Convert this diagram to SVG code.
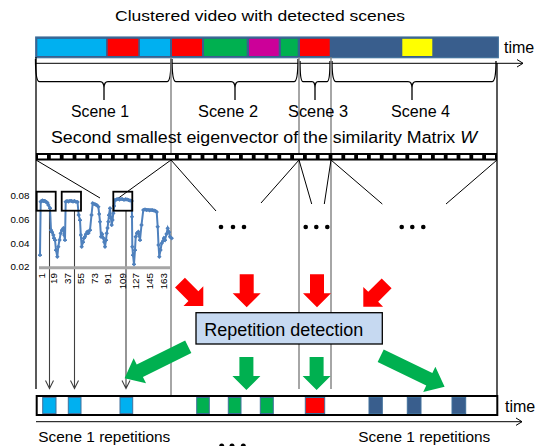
<svg xmlns="http://www.w3.org/2000/svg" width="542" height="446" viewBox="0 0 542 446">
<defs>
<style>
text{font-family:"Liberation Sans","DejaVu Sans",sans-serif;fill:#000}
.t15{font-size:15px}
.t16{font-size:16px}
.ax{font-size:9.8px;fill:#333}
.ln{stroke:#000;stroke-width:1;fill:none}
.gl{stroke:#808080;stroke-width:1.4;fill:none}
.bl{stroke:#000;stroke-width:1.3;fill:none}
.brace{stroke:#000;stroke-width:1.3;fill:none}
.seg{stroke:#41719c;stroke-width:1}
.red{fill:#ff0000}
.grn{fill:#00b050}
</style>
<marker id="dia" viewBox="-3 -3 6 6" markerWidth="4.5" markerHeight="4.5" markerUnits="userSpaceOnUse">
<path d="M0,-3 L3,0 L0,3 L-3,0 Z" fill="#4f81bd"/>
</marker>
<path id="blk" d="M-7,-33 L7,-33 L7,-14 L14,-14 L0,0 L-14,-14 L-7,-14 Z"/>
<path id="blkL" d="M-7,-71 L7,-71 L7,-17 L14,-17 L0,0 L-14,-17 L-7,-17 Z"/>
</defs>

<text id="title" class="t15" x="115" y="20.5" textLength="290" lengthAdjust="spacingAndGlyphs">Clustered video with detected scenes</text>

<g id="video-bar">
<rect x="35.7" y="37" width="462.6" height="20.7" fill="#395e8d" stroke="#41719c" stroke-width="1.2"/>
<rect x="37.3" y="38.8" width="68.7" height="17.2" fill="#00b0f0"/>
<rect x="107.7" y="38.8" width="30.6" height="17.2" fill="#ff0000"/>
<rect x="140" y="38.8" width="30" height="17.2" fill="#00b0f0"/>
<rect x="172" y="38.8" width="30" height="17.2" fill="#ff0000"/>
<rect x="204" y="38.8" width="42.7" height="17.2" fill="#00b050"/>
<rect x="249" y="38.8" width="29.7" height="17.2" fill="#cc0099"/>
<rect x="281" y="38.8" width="16.7" height="17.2" fill="#00b050"/>
<rect x="300" y="38.8" width="29.7" height="17.2" fill="#ff0000"/>
<rect x="402.3" y="38.8" width="30" height="17.2" fill="#ffff00"/>
<text class="t16" x="504" y="52.5">time</text>
</g>

<g id="connectors">
<path class="ln" d="M35,63.3 H523 M517,59.5 L523,63.3 L517,67"/>
<path class="brace" d="M35.5,59 Q35.5,81.7 39.5,81.7 H100 Q104,81.7 104,88 V100 M104,88 Q104,81.7 108,81.7 H167 Q171,81.7 171,59"/>
<path class="brace" d="M172,59 Q172,81.7 176,81.7 H231 Q235,81.7 235,88 V100 M235,88 Q235,81.7 239,81.7 H294 Q298,81.7 298,59"/>
<path class="brace" d="M300,61 Q300,81.7 303,81.7 H312 Q315,81.7 315,88 V100 M315,88 Q315,81.7 318,81.7 H327 Q330,81.7 330,61"/>
<path class="brace" d="M332,61 Q332,81.7 336,81.7 H408 Q412,81.7 412,88 V100 M412,88 Q412,81.7 416,81.7 H492 Q496,81.7 496,61"/>
<line class="bl" x1="36" y1="57" x2="36" y2="389"/>
<line class="gl" x1="171" y1="57" x2="171" y2="396"/>
<line class="gl" x1="299" y1="57" x2="299" y2="389"/>
<line class="gl" x1="331" y1="57" x2="331" y2="389"/>
<line class="bl" x1="497" y1="63" x2="497" y2="396"/>
<path class="ln" d="M36,160 L100,198 M171,160 L113,202 M171,160 L216,211 M299,160 L261,203 M299,160 L311.7,204 M331,160 L324.3,204 M331,160 L382.3,204 M497,160 L446,204"/>
<path stroke="#404040" stroke-width="1.1" fill="none" d="M49.5,211 V388.5 M45.5,380.5 L49.5,388.5 L53.5,380.5 M74.5,211 V388.5 M70.5,380.5 L74.5,388.5 L78.5,380.5 M126,211 V388.5 M122,380.5 L126,388.5 L130,380.5"/>
<use href="#blk" class="red" transform="translate(203.3,306) rotate(-45)"/>
<use href="#blk" class="red" transform="translate(246.7,307.3)"/>
<use href="#blk" class="red" transform="translate(317,307.3)"/>
<use href="#blk" class="red" transform="translate(363.3,306.7) rotate(45)"/>
<use href="#blkL" class="grn" transform="translate(124.6,378.3) rotate(63.7)"/>
<use href="#blk" class="grn" transform="translate(246.4,390)"/>
<use href="#blk" class="grn" transform="translate(316.6,390)"/>
<use href="#blkL" class="grn" transform="translate(444.6,386.7) rotate(-64.2)"/>
<path class="ln" d="M36,421.7 H522 M516,418 L522,421.7 L516,425.4"/>
</g>

<g id="scene-labels">
<text class="t16" x="71" y="117" textLength="58" lengthAdjust="spacingAndGlyphs">Scene 1</text>
<text class="t16" x="198" y="117" textLength="60" lengthAdjust="spacingAndGlyphs">Scene 2</text>
<text class="t16" x="288" y="117" textLength="60" lengthAdjust="spacingAndGlyphs">Scene 3</text>
<text class="t16" x="391" y="117" textLength="59" lengthAdjust="spacingAndGlyphs">Scene 4</text>
<text class="t16" x="51" y="142.5" textLength="426" lengthAdjust="spacingAndGlyphs">Second smallest eigenvector of the similarity Matrix <tspan font-style="italic">W</tspan></text>
</g>

<g id="eigen-strip">
<rect x="36" y="153" width="461" height="7.5" fill="#000"/>
<g fill="#fff">
<rect x="38" y="155" width="9" height="3.5"/><rect x="50.8" y="155" width="9" height="3.5"/><rect x="63.6" y="155" width="9" height="3.5"/><rect x="76.4" y="155" width="9" height="3.5"/><rect x="89.2" y="155" width="9" height="3.5"/><rect x="102" y="155" width="9" height="3.5"/><rect x="114.8" y="155" width="9" height="3.5"/><rect x="127.6" y="155" width="9" height="3.5"/><rect x="140.4" y="155" width="9" height="3.5"/><rect x="153.2" y="155" width="9" height="3.5"/><rect x="166" y="155" width="9" height="3.5"/><rect x="178.8" y="155" width="9" height="3.5"/><rect x="191.6" y="155" width="9" height="3.5"/><rect x="204.4" y="155" width="9" height="3.5"/><rect x="217.2" y="155" width="9" height="3.5"/><rect x="230" y="155" width="9" height="3.5"/><rect x="242.8" y="155" width="9" height="3.5"/><rect x="255.6" y="155" width="9" height="3.5"/><rect x="268.4" y="155" width="9" height="3.5"/><rect x="281.2" y="155" width="9" height="3.5"/><rect x="294" y="155" width="9" height="3.5"/><rect x="306.8" y="155" width="9" height="3.5"/><rect x="319.6" y="155" width="9" height="3.5"/><rect x="332.4" y="155" width="9" height="3.5"/><rect x="345.2" y="155" width="9" height="3.5"/><rect x="358" y="155" width="9" height="3.5"/><rect x="370.8" y="155" width="9" height="3.5"/><rect x="383.6" y="155" width="9" height="3.5"/><rect x="396.4" y="155" width="9" height="3.5"/><rect x="409.2" y="155" width="9" height="3.5"/><rect x="422" y="155" width="9" height="3.5"/><rect x="434.8" y="155" width="9" height="3.5"/><rect x="447.6" y="155" width="9" height="3.5"/><rect x="460.4" y="155" width="9" height="3.5"/><rect x="473.2" y="155" width="9" height="3.5"/><rect x="486" y="155" width="9" height="3.5"/>
</g>
</g>

<g id="chart">
<line x1="39" y1="267.7" x2="171" y2="267.7" stroke="#a6a6a6" stroke-width="3"/>
<g class="ax" text-anchor="end">
<text x="29.5" y="198.8">0.08</text>
<text x="29.5" y="222.8">0.06</text>
<text x="29.5" y="246.8">0.04</text>
<text x="29.5" y="270.3">0.02</text>
</g>
<g class="ax" text-anchor="end">
<text transform="translate(44.5,273) rotate(-90)">1</text>
<text transform="translate(57.3,273) rotate(-90)">19</text>
<text transform="translate(71.2,273) rotate(-90)">37</text>
<text transform="translate(84.2,273) rotate(-90)">55</text>
<text transform="translate(97.8,273) rotate(-90)">73</text>
<text transform="translate(111,273) rotate(-90)">91</text>
<text transform="translate(126.3,273) rotate(-90)">109</text>
<text transform="translate(139.3,273) rotate(-90)">127</text>
<text transform="translate(153,273) rotate(-90)">145</text>
<text transform="translate(166.5,273) rotate(-90)">163</text>
</g>
<polyline fill="none" stroke="#4f81bd" stroke-width="2" marker-start="url(#dia)" marker-mid="url(#dia)" marker-end="url(#dia)" points="40,255 40.7,201.7 41.5,201 42.5,200.5 43.5,201 44.5,200.8 45.5,201.5 46.5,202 47.5,203 48.3,205 50,208 51,230 52,232 53.3,235 54,238 55,240 56,250 57.3,256.7 58.3,246.7 59.5,240 60.7,233.3 62,230 63.3,228.3 64.2,235 65,240 65.7,201.7 67,201 68.5,201.5 70,200.8 71.5,201 73,201.5 74.5,201 76,201.8 77.5,202 78.7,215 80,220 80.8,235 81.7,246.7 83,242 84,238 85,236.7 86,234 87.3,231.7 88.5,233 90,230 91.5,215 92.7,203.3 94,204 95.5,204.5 96.7,205 98.3,206.7 99.2,214 100,221.7 101,236.7 102,234 103.3,238 104.2,242 105,246.7 106,240 106.7,233.3 107.5,228 108.3,221.7 109,215 110,208.3 111,218 111.7,225 112.5,220 113.3,213.3 114.2,206 115,200 116.5,199.5 118,199 119.5,199.5 121,199 122.5,199.2 124,199.8 125.5,199.3 127,199.6 128.5,200 130,200.5 131.7,201 132,216.7 132.3,246.7 133,255 134,264.3 135,250 135.7,236.7 137,233 138.3,231.7 139.2,236 140,240 141.5,225 143.3,210 145,209.5 146.5,210 148,209.8 149.5,210.3 151,210 152.5,210.2 154,210.5 155.5,211 156.7,212 157.7,226.7 158.5,245 159.3,256.7 160.5,250 161.7,243.3 163,241 164,238 165,240 166.5,234 167.7,228.3 169,232 170,236.7 171.7,238.3"/>
<g fill="none" stroke="#000" stroke-width="1.8">
<rect x="36.7" y="191.7" width="19" height="19"/>
<rect x="61.7" y="191.7" width="19.3" height="19"/>
<rect x="113.3" y="191.7" width="19" height="19"/>
</g>
</g>

<g id="dots" fill="#000">
<circle cx="221" cy="227" r="2.3"/><circle cx="233" cy="227" r="2.3"/><circle cx="244" cy="227" r="2.3"/>
<circle cx="305.7" cy="227" r="2.3"/><circle cx="316.3" cy="227" r="2.3"/><circle cx="327.3" cy="227" r="2.3"/>
<circle cx="401.7" cy="227" r="2.3"/><circle cx="412.3" cy="227" r="2.3"/><circle cx="423.3" cy="227" r="2.3"/>
<circle cx="221.7" cy="446" r="2.5"/><circle cx="232" cy="446" r="2.5"/><circle cx="243.3" cy="446" r="2.5"/>
</g>

<g id="repetition-detection">
<rect x="196" y="312.7" width="186.3" height="31.3" fill="#c6d9f1" stroke="#000" stroke-width="1.3"/>
<text x="204.3" y="335.8" font-size="18" textLength="159" lengthAdjust="spacingAndGlyphs">Repetition detection</text>
</g>

<g id="result-bar">
<rect x="36.7" y="396" width="460.6" height="19" fill="#fff" stroke="#000" stroke-width="2"/>
<rect class="seg" x="42.7" y="397.5" width="13.3" height="16" fill="#00b0f0"/>
<rect class="seg" x="68.3" y="397.5" width="12.7" height="16" fill="#00b0f0"/>
<rect class="seg" x="120" y="397.5" width="12.7" height="16" fill="#00b0f0"/>
<rect class="seg" x="196.7" y="397.5" width="12.6" height="16" fill="#00b050"/>
<rect class="seg" x="228.3" y="397.5" width="12.7" height="16" fill="#00b050"/>
<rect class="seg" x="260.3" y="397.5" width="13" height="16" fill="#00b050"/>
<rect class="seg" x="305.3" y="397.5" width="19.4" height="16" fill="#ff0000"/>
<rect class="seg" x="369" y="397.5" width="13.3" height="16" fill="#395e8d"/>
<rect class="seg" x="407.3" y="397.5" width="13.7" height="16" fill="#395e8d"/>
<rect class="seg" x="452" y="397.5" width="13.7" height="16" fill="#395e8d"/>
<text class="t16" x="505" y="412">time</text>
</g>

<g id="bottom-labels">
<text class="t15" x="38.3" y="442" textLength="132" lengthAdjust="spacingAndGlyphs">Scene 1 repetitions</text>
<text class="t15" x="358.3" y="442" textLength="132" lengthAdjust="spacingAndGlyphs">Scene 1 repetitions</text>
</g>
</svg>
